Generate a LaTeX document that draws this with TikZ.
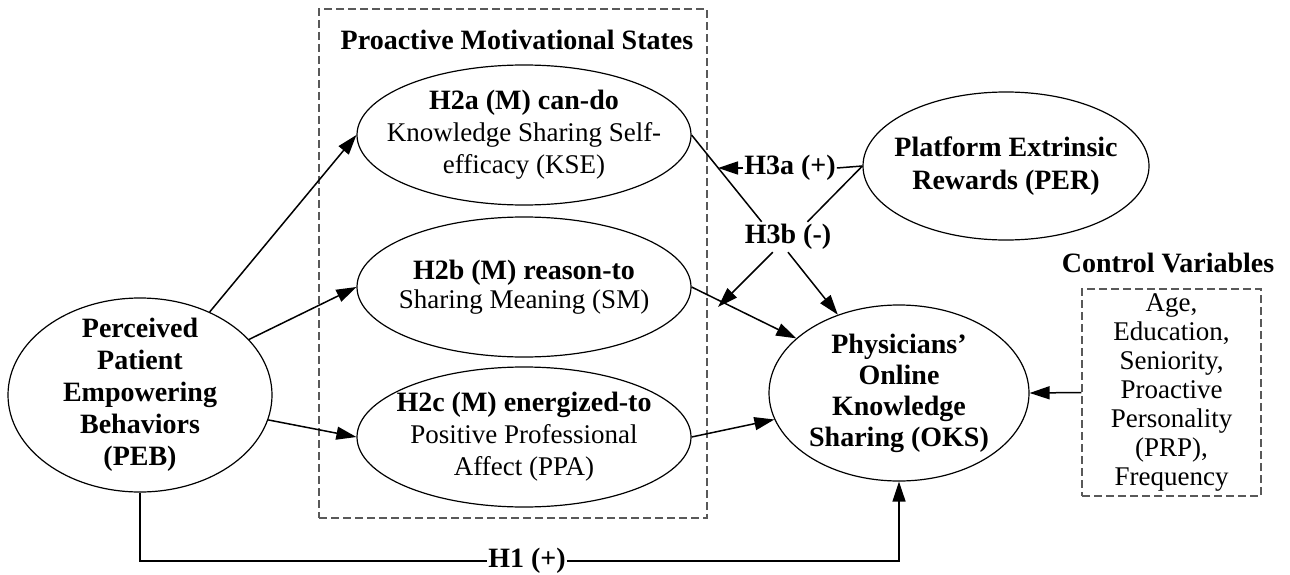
\documentclass[tikz,border=0pt]{standalone}
\usepackage{fontspec}
\setmainfont{Liberation Serif}
\usetikzlibrary{shapes.geometric,arrows.meta,calc}
\begin{document}
\begin{tikzpicture}[x=1pt,y=-1pt,
  oval/.style={ellipse, draw, line width=1.2pt, inner sep=0pt},
  txt/.style={align=center, inner sep=0pt, font=\fontsize{27}{32}\selectfont},
  btxt/.style={align=center, inner sep=0pt, font=\bfseries\fontsize{28}{32}\selectfont},
  conn/.style={line width=1.5pt},
  arr/.style={conn, -{Triangle[length=20pt,width=13pt]}},
  dbox/.style={draw=black!65, dash pattern=on 8pt off 4pt, line width=1.3pt, inner sep=0pt},
  lbl/.style={font=\bfseries\fontsize{28}{32}\selectfont, inner sep=1pt},
]
\useasboundingbox (0,0) rectangle (1290,575);

% group box
\node[dbox, minimum width=388pt, minimum height=509pt] (pms) at (513,263.5) {};
\node[btxt] (pmstitle) at (517,40) {Proactive Motivational States};

% ellipses
\node[oval, minimum width=264pt, minimum height=194pt] (PEB) at (140,395) {};
\node[btxt] (PEBt) at (PEB.center) {Perceived\\Patient\\Empowering\\Behaviors\\(PEB)};

\node[oval, minimum width=334pt, minimum height=140pt] (KSE) at (524,135) {};
\node[txt] (KSEt) at (KSE.center) {\textbf{\fontsize{28}{32}\selectfont H2a (M) can-do}\\Knowledge Sharing Self-\\efficacy (KSE)};

\node[oval, minimum width=334pt, minimum height=140pt] (SM) at (524,287) {};
\node[txt] (SMt) at (SM.center) {\textbf{\fontsize{28}{32}\selectfont H2b (M) reason-to}\\[-3pt]Sharing Meaning (SM)};

\node[oval, minimum width=334pt, minimum height=140pt] (PPA) at (524,437) {};
\node[txt] (PPAt) at (PPA.center) {\textbf{\fontsize{28}{32}\selectfont H2c (M) energized-to}\\Positive Professional\\Affect (PPA)};

\node[oval, minimum width=260pt, minimum height=176pt] (OKS) at (899,393) {};
\node[btxt, font=\bfseries\fontsize{28}{31}\selectfont] (OKSt) at (OKS.center) {Physicians’\\Online\\Knowledge\\Sharing (OKS)};

\node[oval, minimum width=286pt, minimum height=148pt] (PER) at (1006,166) {};
\node[btxt, font=\bfseries\fontsize{28}{33}\selectfont] (PERt) at (PER.center) {Platform Extrinsic\\Rewards (PER)};

% control variables
\node[btxt] (ctitle) at (1168,263) {Control Variables};
\node[dbox, minimum width=179pt, minimum height=207pt] (ctrl) at (1171.5,392.5) {};
\node[txt, font=\fontsize{27}{29}\selectfont] (ctrlt) at (ctrl.center) {Age,\\Education,\\Seniority,\\Proactive\\Personality\\(PRP),\\Frequency};

% labels
\node[lbl] (h1) at (527,561) {H1 (+)};
\node[lbl] (h3a) at (790,168) {H3a (+)};
\node[lbl, inner sep=0pt, minimum height=30pt] (h3b) at (788,237) {H3b (-)};
\coordinate (a3a) at (718,168);
\coordinate (a3b) at (718,307);

% connectors
\draw[arr] (PEB.50) -- (KSE.west);
\draw[arr] (PEB.27) -- (SM.west);
\draw[arr] (PEB.-11) -- (PPA.west);
\draw[arr] (SM.east) -- (OKS.152);
\draw[arr] (PPA.east) -- (OKS.192);
\draw[arr] (ctrl.west) -- (OKS.east);
\draw[conn] (PEB.south) |- (h1.west);
\draw[arr] (h1.east) -| (OKS.south);
\draw[conn] (KSE.east) -- (h3b.150);
\draw[conn] (PER.west) -- (h3b.38);
\draw[conn] (PER.west) -- (h3a.east);
\draw[arr] (h3a.west) -- (a3a);
\draw[arr] (h3b.225) -- (a3b);
\draw[arr] (h3b.south) -- (OKS.128);
\end{tikzpicture}
\end{document}
